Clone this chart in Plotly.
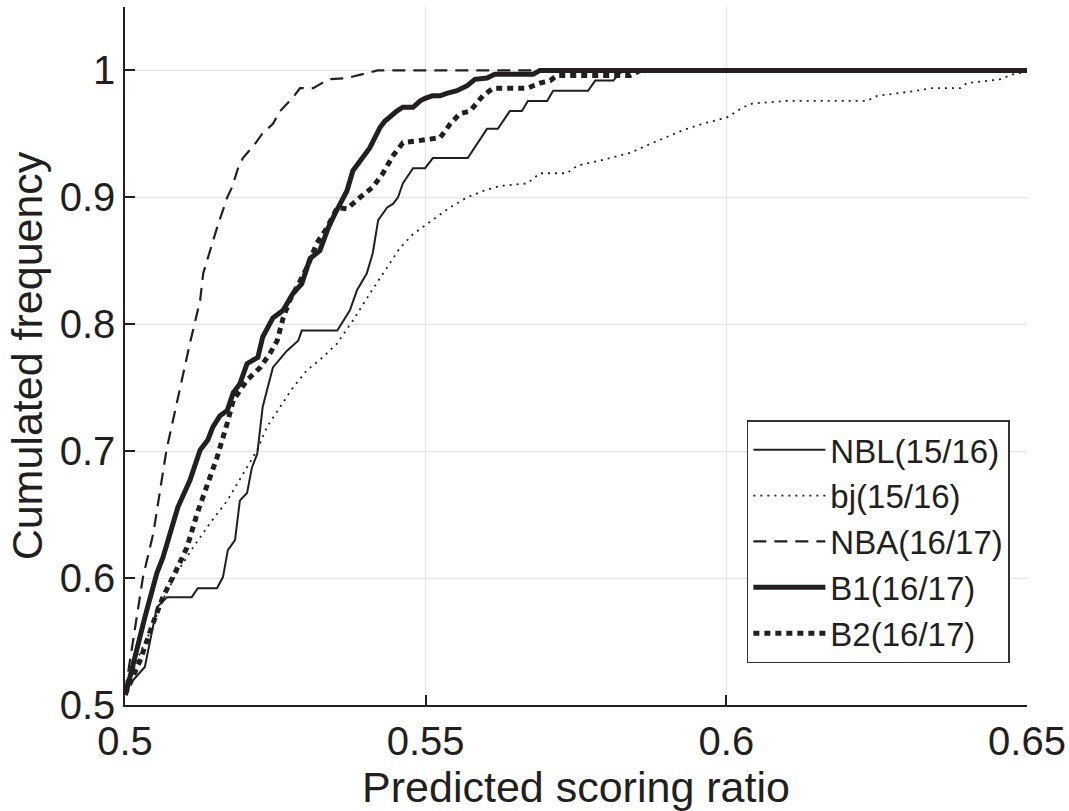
import plotly.graph_objects as go

# ---- data ----
nbl_x = [0.5, 0.5003, 0.5033, 0.5042, 0.5053, 0.5070, 0.5111, 0.5121, 0.5153, 0.5163, 0.5171, 0.5183,
         0.5191, 0.5203, 0.5211, 0.5220, 0.5229, 0.5246, 0.5269, 0.5288, 0.5294, 0.5353, 0.5374, 0.5386,
         0.5402, 0.5412, 0.5421, 0.5436, 0.5446, 0.5454, 0.5462, 0.5479, 0.5499, 0.5512, 0.5570, 0.5602,
         0.5620, 0.5640, 0.5660, 0.5670, 0.5702, 0.5712, 0.5770, 0.5782, 0.5812, 0.5823, 0.5832, 0.65]
nbl_y = [0.508, 0.514, 0.530, 0.551, 0.577, 0.585, 0.585, 0.592, 0.592, 0.601, 0.622, 0.630,
         0.661, 0.667, 0.687, 0.698, 0.735, 0.766, 0.779, 0.787, 0.795, 0.795, 0.811, 0.827,
         0.840, 0.856, 0.882, 0.892, 0.895, 0.900, 0.911, 0.923, 0.923, 0.931, 0.931, 0.954,
         0.954, 0.968, 0.968, 0.976, 0.976, 0.984, 0.984, 0.992, 0.992, 0.998, 1.0, 1.0]

bj_x = [0.5, 0.5003, 0.5025, 0.5045, 0.5063, 0.5086, 0.5113, 0.5141, 0.5170, 0.5203, 0.5220, 0.5236,
        0.5258, 0.5279, 0.5303, 0.5329, 0.5353, 0.5379, 0.5407, 0.5436, 0.5457, 0.5479, 0.5502, 0.5524,
        0.5540, 0.5569, 0.5595, 0.5624, 0.5669, 0.5690, 0.5735, 0.5752, 0.5790, 0.5840, 0.5873, 0.5928,
        0.5961, 0.6001, 0.6028, 0.6044, 0.6101, 0.6234, 0.6251, 0.6317, 0.6339, 0.6389, 0.6400, 0.6455,
        0.6477, 0.65]
bj_y = [0.508, 0.514, 0.541, 0.561, 0.583, 0.604, 0.624, 0.643, 0.661, 0.687, 0.701, 0.719,
        0.735, 0.750, 0.764, 0.774, 0.785, 0.803, 0.824, 0.845, 0.860, 0.871, 0.879, 0.887,
        0.892, 0.900, 0.905, 0.909, 0.911, 0.919, 0.919, 0.925, 0.929, 0.935, 0.942, 0.953,
        0.958, 0.963, 0.971, 0.974, 0.976, 0.976, 0.980, 0.984, 0.986, 0.986, 0.990, 0.993,
        0.997, 0.999]

nba_x = [0.5, 0.5005, 0.5013, 0.5030, 0.5047, 0.5069, 0.5108, 0.5125, 0.5130, 0.5145, 0.5153, 0.5170,
         0.5178, 0.5188, 0.5196, 0.5216, 0.5228, 0.5246, 0.5258, 0.5278, 0.5291, 0.5313, 0.5338, 0.5369,
         0.5386, 0.5412, 0.5420, 0.65]
nba_y = [0.510, 0.525, 0.551, 0.601, 0.635, 0.701, 0.785, 0.819, 0.840, 0.864, 0.876, 0.900,
         0.908, 0.923, 0.931, 0.942, 0.950, 0.958, 0.968, 0.978, 0.986, 0.986, 0.993, 0.994,
         0.996, 0.999, 1.0, 1.0]

b1_x = [0.5, 0.5003, 0.5033, 0.5053, 0.5063, 0.5088, 0.5108, 0.5125, 0.5138, 0.5146, 0.5158, 0.5170,
        0.5180, 0.5191, 0.5203, 0.5221, 0.5229, 0.5246, 0.5263, 0.5279, 0.5294, 0.5308, 0.5324, 0.5338,
        0.5349, 0.5361, 0.5369, 0.5379, 0.5396, 0.5407, 0.5424, 0.5432, 0.5452, 0.5462, 0.5479, 0.5491,
        0.5499, 0.5511, 0.5524, 0.5535, 0.5552, 0.5569, 0.5582, 0.5602, 0.5615, 0.5679, 0.5690, 0.65]
b1_y = [0.508, 0.512, 0.569, 0.604, 0.616, 0.656, 0.677, 0.701, 0.709, 0.719, 0.728, 0.732,
        0.746, 0.753, 0.769, 0.774, 0.790, 0.805, 0.811, 0.824, 0.832, 0.852, 0.858, 0.876,
        0.887, 0.897, 0.905, 0.921, 0.931, 0.939, 0.955, 0.960, 0.968, 0.971, 0.971, 0.976,
        0.978, 0.980, 0.980, 0.982, 0.984, 0.988, 0.993, 0.994, 0.997, 0.997, 1.0, 1.0]

b2_x = [0.5, 0.5025, 0.5047, 0.5063, 0.5083, 0.5103, 0.5120, 0.5136, 0.5153, 0.5170, 0.5180, 0.5203,
        0.5225, 0.5241, 0.5253, 0.5263, 0.5274, 0.5291, 0.5303, 0.5319, 0.5336, 0.5353, 0.5369, 0.5391,
        0.5412, 0.5429, 0.5446, 0.5462, 0.5491, 0.5524, 0.5541, 0.5557, 0.5574, 0.5595, 0.5612, 0.5669,
        0.5690, 0.5707, 0.5718, 0.5840, 0.5857, 0.65]
b2_y = [0.508, 0.535, 0.565, 0.585, 0.604, 0.624, 0.651, 0.672, 0.695, 0.722, 0.740, 0.756,
        0.766, 0.777, 0.787, 0.805, 0.819, 0.834, 0.845, 0.864, 0.876, 0.892, 0.891, 0.900,
        0.908, 0.919, 0.933, 0.943, 0.945, 0.947, 0.958, 0.966, 0.968, 0.980, 0.986, 0.986,
        0.990, 0.992, 0.996, 0.996, 1.0, 1.0]

x_ticks = [0.5, 0.55, 0.6, 0.65]
x_tick_text = ["0.5", "0.55", "0.6", "0.65"]
y_ticks = [0.5, 0.6, 0.7, 0.8, 0.9, 1.0]
y_tick_text = ["0.5", "0.6", "0.7", "0.8", "0.9", "1"]

INK = "#231f20"
FONT = "Liberation Sans, Arial, Helvetica, sans-serif"

fig = go.Figure()
fig.add_trace(go.Scatter(x=nbl_x, y=nbl_y, mode="lines", name="NBL(15/16)",
                         line=dict(color=INK, width=2)))
fig.add_trace(go.Scatter(x=bj_x, y=bj_y, mode="lines", name="bj(15/16)",
                         line=dict(color=INK, width=1.8, dash="2px,5px")))
fig.add_trace(go.Scatter(x=nba_x, y=nba_y, mode="lines", name="NBA(16/17)",
                         line=dict(color=INK, width=2.2, dash="13px,8px")))
fig.add_trace(go.Scatter(x=b1_x, y=b1_y, mode="lines", name="B1(16/17)",
                         line=dict(color=INK, width=5)))
fig.add_trace(go.Scatter(x=b2_x, y=b2_y, mode="lines", name="B2(16/17)",
                         line=dict(color=INK, width=5, dash="6px,5px")))

fig.update_layout(
    width=1069, height=811,
    margin=dict(l=125, r=42, t=7, b=106),
    paper_bgcolor="white", plot_bgcolor="white",
    font=dict(family=FONT, color=INK, size=40),
    showlegend=True,
    legend=dict(x=0.981, y=0.408, xanchor="right", yanchor="top",
                bgcolor="white", bordercolor="#333333", borderwidth=1.5,
                font=dict(size=33, family=FONT, color=INK),
                itemwidth=72, tracegroupgap=0),
)
fig.update_xaxes(
    range=[0.5, 0.65], tickvals=x_ticks, ticktext=x_tick_text,
    showgrid=True, gridcolor="#e3e3e3", gridwidth=1,
    showline=True, linecolor=INK, linewidth=1.5,
    ticks="inside", ticklen=10, tickcolor=INK, tickwidth=1.5,
    zeroline=False, automargin=False,
    tickfont=dict(size=40, family=FONT, color=INK),
    title=dict(text="Predicted scoring ratio", font=dict(size=43, family=FONT, color=INK), standoff=4),
)
fig.update_yaxes(
    range=[0.5, 1.05], tickvals=y_ticks, ticktext=y_tick_text,
    showgrid=True, gridcolor="#e3e3e3", gridwidth=1,
    showline=True, linecolor=INK, linewidth=1.5,
    ticks="inside", ticklen=10, tickcolor=INK, tickwidth=1.5,
    zeroline=False, automargin=False,
    tickfont=dict(size=40, family=FONT, color=INK),
    title=dict(text="Cumulated frequency", font=dict(size=43, family=FONT, color=INK), standoff=4),
)

fig.write_html("out.html", config={"displayModeBar": False},
               post_script="document.body.style.margin='0';")
